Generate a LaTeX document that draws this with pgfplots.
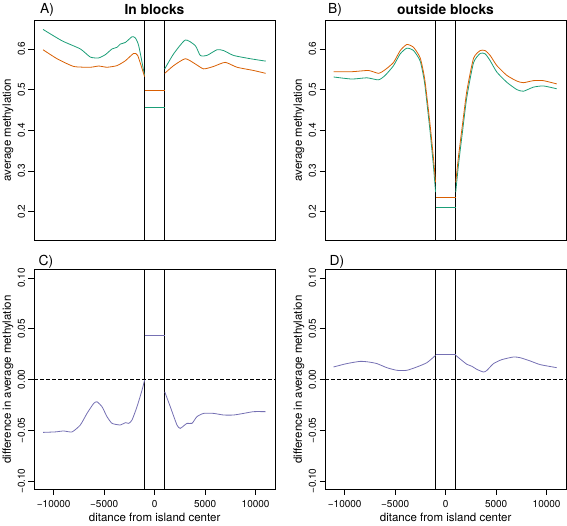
\documentclass[border=0pt]{standalone}
\usepackage{fontspec}
\setmainfont{TeX Gyre Heros}
\usepackage{pgfplots}
\pgfplotsset{compat=1.18}
\definecolor{dgreen}{HTML}{1B9E77}
\definecolor{dorange}{HTML}{D95F02}
\definecolor{dpurple}{HTML}{7570B3}

\pgfplotsset{
 rpanel/.style={
  scale only axis, width=241.3pt, height=219.5pt,
  xmin=-11950, xmax=11950,
  axis line style={line width=0.75pt},
  tick style={line width=0.6pt, black},
  tick align=outside, major tick length=5.5pt,
  ytick pos=left, xtick pos=bottom,
  scaled x ticks=false, scaled y ticks=false,
  /pgf/number format/assume math mode=true,
  ticklabel style={font=\fontsize{10}{11}\selectfont},
  yticklabel style={rotate=90, anchor=south},
  xticklabel style={yshift=-2pt},
  label style={font=\fontsize{11.5}{13}\selectfont},
  ylabel style={at={(axis description cs:-0.108,0.5)}, anchor=center},
 },
 toppanel/.style={rpanel, ymin=0.13, ymax=0.67,
  ytick={0.2,0.3,0.4,0.5,0.6}, yticklabels={0.2,0.3,0.4,0.5,0.6},
  xtick=\empty, ylabel={average methylation}},
 botpanel/.style={rpanel, ymin=-0.108, ymax=0.108,
  ytick={-0.1,-0.05,0,0.05,0.1}, yticklabels={−0.10,−0.05,0.00,0.05,0.10},
  xtick={-10000,-5000,0,5000,10000}, xticklabels={−10000,−5000,0,5000,10000},
  xlabel={ditance from island center},
  xlabel style={at={(axis description cs:0.5,-0.1295)}, anchor=center},
  ylabel={difference in average methylation}},
 crv/.style={line width=0.8pt, smooth, tension=0.35, no markers},
 seg/.style={line width=1.2pt, no markers, solid, sharp plot},
 vln/.style={draw=black, line width=0.75pt, no markers},
}

% Panel A (in blocks)
\pgfplotstableread{
x y
-11050 0.648
-9170 0.620
-7360 0.600
-6370 0.580
-5540 0.578
-4880 0.586
-4220 0.600
-3730 0.604
-3400 0.612
-2900 0.616
-2240 0.630
-1910 0.627
-1580 0.608
-1000 0.535
}\Agl
\pgfplotstableread{
x y
1000 0.551
1880 0.588
3040 0.622
4030 0.608
4520 0.584
5180 0.584
6170 0.598
6830 0.596
7820 0.584
9470 0.576
11000 0.570
}\Agr
\pgfplotstableread{
x y
-11050 0.598
-9670 0.576
-8020 0.557
-6370 0.555
-5540 0.558
-4720 0.555
-3730 0.559
-2900 0.571
-2080 0.589
-1680 0.584
-1000 0.532
}\Aol
\pgfplotstableread{
x y
1000 0.540
1880 0.559
3040 0.576
4030 0.563
4850 0.551
5840 0.557
6990 0.567
8150 0.555
9800 0.547
11000 0.540
}\Aor
\pgfplotstableread{
x y
-1000 0.498
1000 0.498
}\Aoc
\pgfplotstableread{
x y
-1000 0.455
1000 0.455
}\Agc
% Panel B (outside blocks)
\pgfplotstableread{
x y
-11100 0.544
-9290 0.544
-7640 0.547
-6650 0.540
-5990 0.549
-5160 0.567
-4500 0.596
-3840 0.611
-3180 0.604
-2520 0.578
-2100 0.530
-1800 0.470
-1535 0.412
-1210 0.332
-1000 0.272
}\Bol
\pgfplotstableread{
x y
-11100 0.531
-9290 0.526
-7800 0.529
-6650 0.524
-5990 0.535
-5160 0.559
-4500 0.588
-3840 0.602
-3180 0.596
-2520 0.570
-2100 0.519
-1800 0.455
-1535 0.395
-1210 0.312
-1000 0.248
}\Bgl
\pgfplotstableread{
x y
1000 0.272
1270 0.335
1670 0.415
2100 0.497
2760 0.577
3420 0.596
3910 0.596
4410 0.584
5070 0.559
6060 0.535
7050 0.521
7700 0.517
8690 0.522
9680 0.522
11000 0.514
}\Bor
\pgfplotstableread{
x y
1000 0.248
1270 0.315
1670 0.397
2100 0.482
2760 0.566
3420 0.589
3910 0.588
4410 0.571
5070 0.543
6060 0.518
7050 0.500
7700 0.496
8690 0.506
9680 0.509
11000 0.502
}\Bgr
\pgfplotstableread{
x y
-1000 0.234
1000 0.234
}\Boc
\pgfplotstableread{
x y
-1000 0.209
1000 0.209
}\Bgc
% Panel C (difference, in blocks)
\pgfplotstableread{
x y
-11050 -0.0520
-9830 -0.0515
-9010 -0.0506
-8180 -0.0515
-7360 -0.0447
-6700 -0.0333
-6040 -0.0235
-5710 -0.0219
-5210 -0.0268
-4720 -0.0365
-4220 -0.0431
-3400 -0.0447
-2900 -0.0424
-2570 -0.0431
-2240 -0.0398
-1750 -0.0268
-1250 -0.0104
-1000 -0.0007
}\Cl
\pgfplotstableread{
x y
1000 -0.0121
1550 -0.0268
2210 -0.0447
2540 -0.0480
3200 -0.0431
3700 -0.0431
4190 -0.0365
4850 -0.0333
5840 -0.0333
6830 -0.0349
7820 -0.0349
8810 -0.0333
9800 -0.0316
11000 -0.0316
}\Cr
\pgfplotstableread{
x y
-1000 0.043
1000 0.043
}\Cc
% Panel D (difference, outside blocks)
\pgfplotstableread{
x y
-11100 0.0124
-9790 0.0157
-8470 0.0179
-7640 0.0173
-6810 0.0157
-5830 0.0117
-4840 0.0091
-3840 0.0091
-2850 0.0124
-1860 0.0166
-1000 0.0238
}\Dl
\pgfplotstableread{
x y
1000 0.0238
1600 0.0189
2100 0.0150
2590 0.0131
3090 0.0100
3750 0.0074
4080 0.0090
4740 0.0157
5560 0.0196
6720 0.0222
7380 0.0215
8370 0.0183
9360 0.0147
11000 0.0117
}\Dr
\pgfplotstableread{
x y
-1000 0.0245
1000 0.0245
}\Dc

\begin{document}
\begin{tikzpicture}
\path[use as bounding box] (0,0) rectangle (567pt,525pt);

% A
\begin{axis}[toppanel, at={(34pt,285pt)}, anchor=south west]
\addplot[vln] coordinates {(-1000,0.13) (-1000,0.67)};
\addplot[vln] coordinates {(1000,0.13) (1000,0.67)};
\addplot[draw=dgreen, crv] table {\Agl};
\addplot[draw=dgreen, crv] table {\Agr};
\addplot[draw=dorange, crv] table {\Aol};
\addplot[draw=dorange, crv] table {\Aor};
\addplot[draw=dorange, seg] table {\Aoc};
\addplot[draw=dgreen, seg] table {\Agc};
\end{axis}

% B
\begin{axis}[toppanel, at={(325pt,285pt)}, anchor=south west]
\addplot[vln] coordinates {(-1000,0.13) (-1000,0.67)};
\addplot[vln] coordinates {(1000,0.13) (1000,0.67)};
\addplot[draw=dgreen, crv] table {\Bgl};
\addplot[draw=dgreen, crv] table {\Bgr};
\addplot[draw=dorange, crv] table {\Bol};
\addplot[draw=dorange, crv] table {\Bor};
\addplot[draw=dorange, seg] table {\Boc};
\addplot[draw=dgreen, seg] table {\Bgc};
\end{axis}

% C
\begin{axis}[botpanel, at={(34pt,35.7pt)}, anchor=south west]
\addplot[vln] coordinates {(-1000,-0.108) (-1000,0.108)};
\addplot[vln] coordinates {(1000,-0.108) (1000,0.108)};
\addplot[draw=black, line width=0.8pt, no markers, dash pattern=on 3.5pt off 2.5pt] coordinates {(-11950,0) (11950,0)};
\addplot[draw=dpurple, crv] table {\Cl};
\addplot[draw=dpurple, crv] table {\Cr};
\addplot[draw=dpurple, seg] table {\Cc};
\end{axis}

% D
\begin{axis}[botpanel, at={(325pt,35.7pt)}, anchor=south west]
\addplot[vln] coordinates {(-1000,-0.108) (-1000,0.108)};
\addplot[vln] coordinates {(1000,-0.108) (1000,0.108)};
\addplot[draw=black, line width=0.8pt, no markers, dash pattern=on 3.5pt off 2.5pt] coordinates {(-11950,0) (11950,0)};
\addplot[draw=dpurple, crv] table {\Dl};
\addplot[draw=dpurple, crv] table {\Dr};
\addplot[draw=dpurple, seg] table {\Dc};
\end{axis}

\node[font=\fontsize{13.8}{15}\selectfont] at (47pt,515pt) {A)};
\node[font=\fontsize{13.8}{15}\selectfont\bfseries] at (154.5pt,515.5pt) {In blocks};
\node[font=\fontsize{13.8}{15}\selectfont] at (335pt,515pt) {B)};
\node[font=\fontsize{13.8}{15}\selectfont\bfseries] at (445.5pt,515.5pt) {outside blocks};
\node[font=\fontsize{13.8}{15}\selectfont] at (46pt,263.5pt) {C)};
\node[font=\fontsize{13.8}{15}\selectfont] at (337pt,263.5pt) {D)};
\end{tikzpicture}
\end{document}
